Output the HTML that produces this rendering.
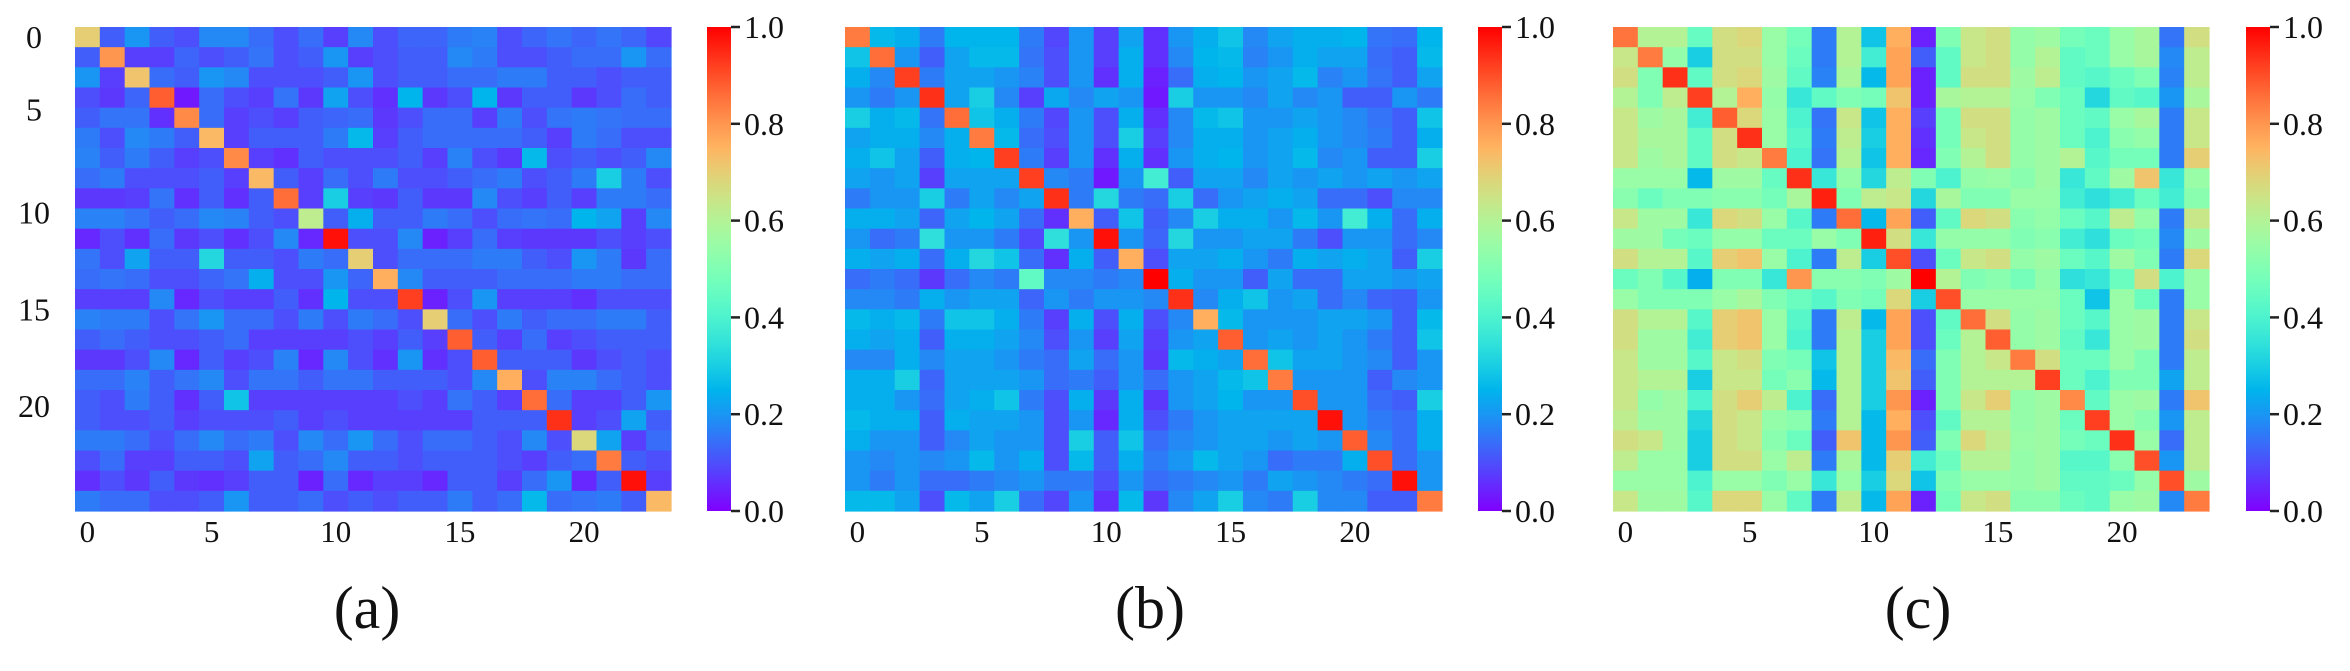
<!DOCTYPE html>
<html><head><meta charset="utf-8">
<style>
html,body{margin:0;padding:0;background:#fff;}
svg{display:block;}
text{font-family:"Liberation Serif","Times New Roman",serif;fill:#111;}
</style></head>
<body>
<svg id="fig" width="2350" height="671" viewBox="0 0 2350 671" xmlns="http://www.w3.org/2000/svg"></svg>
<script>
const tickIdx = [0,5,10,15,20];
const yTickRowPos = [0.5,4.1,9.2,14.0,18.8];
const cbTicks = [0.0,0.2,0.4,0.6,0.8,1.0];
const cbTickLabels = ["0.0","0.2","0.4","0.6","0.8","1.0"];
const panelLabels = ["(a)","(b)","(c)"];

const matA = [
[.70,.12,.20,.12,.10,.18,.18,.14,.10,.14,.08,.18,.10,.13,.13,.16,.17,.10,.13,.15,.13,.15,.13,.09],
[.12,.80,.08,.08,.13,.10,.12,.15,.10,.12,.20,.08,.10,.12,.12,.18,.16,.10,.10,.12,.14,.14,.20,.14],
[.20,.08,.72,.14,.12,.20,.18,.10,.10,.10,.12,.20,.10,.12,.12,.14,.14,.16,.16,.12,.12,.10,.12,.12],
[.10,.07,.13,.88,.03,.14,.10,.08,.15,.07,.22,.10,.06,.25,.07,.10,.25,.07,.12,.12,.07,.10,.14,.12],
[.12,.15,.15,.06,.82,.14,.08,.10,.08,.12,.13,.14,.07,.10,.14,.14,.08,.16,.10,.15,.16,.15,.14,.14],
[.16,.10,.18,.16,.12,.74,.08,.12,.12,.12,.16,.26,.08,.12,.14,.14,.14,.14,.12,.08,.16,.14,.10,.10],
[.17,.12,.16,.12,.08,.10,.82,.08,.06,.12,.10,.10,.10,.12,.08,.17,.10,.07,.26,.10,.12,.10,.12,.18],
[.14,.16,.10,.10,.10,.12,.08,.74,.12,.08,.14,.10,.16,.10,.10,.12,.14,.16,.10,.12,.16,.30,.16,.10],
[.07,.07,.08,.15,.06,.12,.06,.12,.86,.08,.30,.08,.07,.12,.07,.07,.18,.10,.08,.12,.08,.16,.16,.14],
[.17,.17,.15,.12,.14,.18,.17,.12,.10,.62,.12,.24,.12,.12,.16,.14,.10,.14,.15,.14,.25,.22,.08,.18],
[.05,.10,.06,.14,.07,.10,.06,.10,.18,.05,.98,.10,.10,.18,.04,.08,.14,.08,.07,.07,.07,.10,.08,.10],
[.15,.10,.22,.12,.12,.32,.12,.12,.10,.16,.14,.70,.10,.14,.14,.14,.16,.16,.12,.10,.20,.16,.07,.14],
[.14,.15,.14,.10,.10,.13,.15,.24,.10,.10,.20,.13,.76,.18,.12,.12,.12,.14,.14,.14,.16,.16,.14,.14],
[.08,.08,.08,.18,.05,.10,.08,.08,.12,.06,.25,.10,.10,.92,.04,.10,.20,.08,.08,.08,.06,.10,.10,.10],
[.17,.16,.16,.10,.15,.20,.14,.14,.10,.16,.10,.16,.14,.10,.70,.14,.10,.16,.12,.14,.14,.16,.16,.12],
[.12,.14,.12,.10,.10,.12,.14,.08,.08,.08,.08,.10,.08,.12,.08,.88,.12,.08,.14,.08,.10,.12,.12,.12],
[.07,.07,.10,.18,.05,.12,.08,.10,.17,.05,.18,.10,.06,.20,.06,.10,.88,.12,.12,.12,.07,.10,.12,.10],
[.14,.14,.17,.12,.15,.18,.10,.15,.15,.12,.15,.15,.12,.12,.12,.10,.18,.76,.10,.17,.17,.14,.12,.10],
[.12,.10,.16,.12,.06,.12,.28,.08,.08,.08,.08,.08,.08,.10,.08,.15,.12,.08,.86,.14,.08,.08,.12,.20],
[.12,.10,.10,.12,.08,.10,.10,.10,.12,.08,.10,.08,.08,.08,.08,.08,.12,.12,.12,.94,.08,.10,.22,.12],
[.16,.16,.14,.10,.14,.18,.14,.16,.10,.18,.14,.20,.14,.10,.14,.14,.12,.10,.18,.10,.68,.22,.08,.14],
[.10,.14,.08,.08,.12,.12,.10,.22,.12,.14,.18,.12,.12,.10,.12,.12,.12,.10,.08,.12,.14,.84,.12,.10],
[.06,.10,.07,.12,.07,.06,.08,.12,.12,.04,.14,.05,.08,.08,.05,.12,.12,.08,.14,.20,.05,.12,.98,.08],
[.16,.14,.14,.10,.10,.12,.20,.12,.12,.14,.10,.12,.10,.12,.12,.16,.12,.14,.26,.14,.15,.16,.12,.74]
];

const matB = [
[.84,.26,.24,.16,.25,.25,.25,.16,.09,.2,.08,.22,.06,.2,.24,.28,.18,.22,.24,.24,.25,.15,.14,.25],
[.28,.86,.2,.12,.22,.26,.26,.15,.1,.2,.08,.24,.06,.18,.25,.26,.17,.2,.24,.22,.22,.14,.12,.26],
[.24,.18,.92,.16,.22,.22,.2,.17,.1,.2,.06,.24,.04,.14,.24,.25,.2,.22,.26,.17,.2,.15,.12,.22],
[.2,.16,.2,.94,.22,.3,.18,.08,.23,.18,.22,.2,.03,.3,.2,.2,.18,.22,.18,.2,.12,.12,.2,.16],
[.3,.24,.26,.15,.86,.28,.24,.16,.09,.2,.1,.24,.06,.18,.26,.28,.2,.2,.22,.2,.18,.15,.12,.28],
[.22,.24,.24,.18,.24,.84,.26,.14,.1,.2,.1,.3,.08,.18,.24,.24,.2,.22,.24,.2,.18,.16,.12,.24],
[.24,.28,.22,.12,.24,.25,.92,.16,.08,.2,.06,.24,.06,.2,.24,.25,.2,.22,.26,.18,.2,.12,.12,.3],
[.22,.2,.22,.08,.22,.22,.22,.92,.18,.16,.03,.2,.38,.12,.22,.22,.18,.22,.2,.22,.2,.22,.2,.22],
[.16,.2,.2,.3,.16,.22,.18,.22,.94,.16,.32,.16,.14,.3,.14,.2,.22,.24,.22,.14,.14,.1,.18,.18],
[.24,.24,.22,.13,.22,.25,.22,.14,.06,.76,.12,.28,.12,.18,.3,.24,.24,.2,.26,.2,.38,.24,.14,.24],
[.2,.14,.16,.34,.2,.2,.16,.09,.34,.2,.98,.2,.13,.32,.2,.2,.22,.22,.16,.1,.2,.2,.14,.18],
[.24,.22,.24,.14,.24,.32,.28,.14,.06,.24,.12,.76,.1,.22,.22,.24,.2,.16,.24,.22,.24,.22,.12,.3],
[.14,.16,.14,.07,.14,.18,.16,.44,.18,.18,.16,.18,1.0,.24,.2,.2,.12,.22,.14,.14,.22,.22,.2,.22],
[.18,.18,.16,.24,.2,.22,.22,.13,.2,.16,.2,.2,.18,.94,.18,.24,.28,.2,.22,.14,.18,.13,.12,.2],
[.26,.24,.26,.16,.28,.28,.24,.16,.08,.24,.1,.24,.1,.18,.76,.26,.2,.2,.2,.22,.22,.2,.12,.26],
[.24,.22,.24,.12,.24,.24,.22,.18,.1,.2,.08,.22,.08,.2,.22,.88,.2,.22,.2,.22,.2,.16,.12,.28],
[.18,.18,.24,.18,.22,.22,.2,.16,.14,.22,.14,.2,.07,.26,.24,.22,.86,.28,.22,.22,.2,.18,.12,.2],
[.24,.24,.3,.13,.22,.22,.22,.2,.14,.16,.12,.2,.14,.2,.22,.26,.28,.84,.2,.2,.2,.12,.18,.2],
[.24,.24,.2,.14,.22,.24,.28,.16,.1,.24,.07,.24,.07,.2,.22,.25,.2,.2,.9,.2,.2,.14,.12,.3],
[.26,.24,.24,.12,.24,.22,.22,.2,.1,.2,.05,.24,.1,.16,.2,.22,.22,.22,.22,.98,.2,.16,.14,.24],
[.24,.2,.2,.12,.18,.22,.2,.2,.1,.3,.12,.28,.14,.18,.2,.22,.22,.2,.22,.2,.88,.18,.14,.24],
[.2,.18,.2,.18,.2,.26,.2,.24,.1,.26,.12,.24,.16,.2,.26,.22,.2,.14,.16,.16,.24,.9,.14,.2],
[.2,.16,.2,.14,.14,.16,.18,.2,.16,.16,.1,.2,.14,.16,.18,.2,.16,.22,.2,.18,.16,.14,.98,.2],
[.26,.26,.22,.1,.26,.22,.3,.14,.09,.2,.06,.26,.07,.18,.22,.3,.18,.16,.3,.18,.18,.12,.12,.84]
];

const matC = [
[.85,.6,.6,.45,.66,.68,.55,.48,.16,.6,.28,.76,.04,.5,.64,.66,.54,.56,.48,.46,.55,.58,.15,.66],
[.64,.84,.54,.3,.66,.66,.55,.46,.16,.6,.38,.78,.12,.44,.64,.66,.54,.6,.44,.46,.55,.58,.18,.62],
[.66,.5,.94,.44,.66,.68,.56,.44,.17,.58,.26,.78,.04,.44,.66,.66,.56,.62,.44,.42,.46,.5,.17,.62],
[.6,.5,.62,.92,.6,.76,.54,.36,.44,.5,.48,.72,.04,.58,.6,.6,.55,.5,.46,.32,.44,.42,.2,.58],
[.64,.56,.58,.38,.88,.68,.55,.4,.15,.64,.28,.76,.08,.48,.66,.66,.54,.56,.46,.44,.55,.58,.16,.64],
[.64,.58,.58,.44,.66,.94,.55,.42,.16,.62,.3,.76,.06,.48,.64,.66,.54,.56,.46,.4,.52,.54,.16,.64],
[.64,.56,.58,.44,.66,.64,.84,.4,.15,.6,.28,.76,.05,.5,.6,.66,.54,.56,.6,.42,.48,.48,.16,.7],
[.55,.55,.55,.26,.56,.56,.45,.94,.36,.54,.32,.62,.5,.4,.54,.55,.52,.56,.36,.44,.56,.72,.36,.55],
[.52,.46,.5,.5,.52,.52,.48,.58,.96,.5,.62,.64,.32,.58,.5,.5,.55,.55,.38,.34,.38,.46,.38,.52],
[.64,.56,.56,.36,.68,.66,.55,.42,.16,.86,.26,.78,.12,.44,.68,.66,.52,.54,.46,.42,.62,.54,.16,.64],
[.56,.56,.48,.46,.54,.54,.46,.46,.55,.5,.96,.66,.36,.54,.54,.54,.5,.52,.38,.34,.46,.48,.18,.56],
[.66,.6,.6,.42,.7,.72,.55,.4,.16,.62,.3,.9,.1,.46,.64,.66,.54,.56,.46,.42,.56,.5,.16,.68],
[.46,.5,.42,.24,.5,.5,.36,.8,.52,.52,.5,.56,1.0,.6,.5,.52,.48,.54,.34,.36,.46,.66,.4,.55],
[.55,.5,.5,.5,.55,.58,.5,.46,.42,.5,.48,.68,.3,.9,.55,.55,.55,.55,.46,.28,.55,.46,.16,.55],
[.66,.6,.6,.42,.7,.72,.55,.42,.16,.62,.26,.78,.1,.44,.86,.66,.54,.56,.46,.42,.55,.56,.16,.64],
[.66,.56,.56,.38,.7,.72,.55,.4,.16,.6,.3,.78,.1,.46,.6,.88,.54,.56,.44,.36,.55,.56,.16,.66],
[.64,.56,.56,.42,.64,.66,.5,.48,.28,.6,.3,.74,.14,.5,.6,.64,.84,.66,.46,.46,.55,.5,.16,.62],
[.64,.6,.6,.3,.64,.64,.48,.52,.26,.6,.3,.72,.12,.5,.6,.6,.6,.92,.46,.4,.5,.5,.22,.62],
[.64,.54,.56,.4,.66,.7,.62,.4,.14,.6,.3,.8,.04,.5,.64,.7,.54,.56,.82,.44,.55,.56,.16,.72],
[.62,.56,.56,.32,.66,.64,.54,.52,.16,.6,.26,.76,.1,.44,.6,.6,.54,.56,.46,.92,.55,.52,.2,.62],
[.66,.64,.56,.3,.66,.64,.52,.46,.12,.72,.26,.8,.12,.5,.68,.62,.55,.56,.48,.46,.94,.55,.14,.62],
[.62,.55,.55,.3,.66,.66,.55,.62,.16,.58,.26,.7,.38,.46,.6,.6,.54,.56,.42,.42,.52,.9,.2,.62],
[.55,.55,.55,.4,.55,.55,.5,.55,.36,.55,.3,.68,.28,.5,.55,.55,.54,.56,.44,.44,.46,.54,.9,.56],
[.64,.56,.56,.42,.68,.68,.55,.44,.16,.62,.26,.78,.04,.48,.64,.66,.52,.52,.46,.44,.55,.56,.18,.84]
];

const NS = "http://www.w3.org/2000/svg";
const svg = document.getElementById('fig');
function mk(tag, attrs, parent){
  const e = document.createElementNS(NS, tag);
  for (const k in attrs) e.setAttribute(k, attrs[k]);
  (parent||svg).appendChild(e);
  return e;
}
function rainbow(v){
  v = Math.max(0, Math.min(1, v));
  const r = Math.min(1, Math.abs(2*v - 0.5));
  const g = Math.sin(Math.PI*v);
  const b = Math.cos(Math.PI*v/2);
  return `rgb(${Math.round(r*255)},${Math.round(g*255)},${Math.round(b*255)})`;
}

const panels = [
  {m: matA, x:75,  w:596, cbx:707,  ylabels:true,  cx:367,  key:'a'},
  {m: matB, x:845, w:597, cbx:1478, ylabels:false, cx:1150, key:'b'},
  {m: matC, x:1613,w:596, cbx:2246, ylabels:false, cx:1918, key:'c'}
];
const Y0 = 27, H = 484, CBW = 24;

panels.forEach((p, pi) => {
  const g = mk('g', {});
  
  
  const n = p.m.length;
  const cw = p.w / n, ch = H / n;
  const xPos = j => p.x + j*cw;
  const yPos = i => Y0 + i*ch;
  p.m.forEach((row, i) => row.forEach((v, j) => {
    const r = mk('rect', {x: xPos(j).toFixed(2), y: yPos(i).toFixed(2), width: (cw+0.6).toFixed(2), height: (ch+0.6).toFixed(2), fill: rainbow(v)}, g);
    
    
  }));
  tickIdx.forEach(t => {
    const tx = mk('text', {x: (xPos(t)+cw/2).toFixed(1), y: 542, 'font-size': 31, 'text-anchor': 'middle'}, g);
    tx.textContent = t;
    
    
  });
  if (p.ylabels) {
    tickIdx.forEach((t, k) => {
      const ty = mk('text', {x: 34, y: (yPos(yTickRowPos[k])+11).toFixed(1), 'font-size': 32, 'text-anchor': 'middle'}, g);
      ty.textContent = t;
      
      
    });
  }
  const cb = mk('g', {}, svg);
  
  
  const gid = 'grad' + pi;
  const defs = mk('defs', {}, cb);
  const lg = mk('linearGradient', {id: gid, x1:0, y1:1, x2:0, y2:0}, defs);
  for (let k = 0; k <= 20; k++) mk('stop', {offset: (k/20), 'stop-color': rainbow(k/20)}, lg);
  mk('rect', {x: p.cbx, y: Y0, width: CBW, height: H, fill: `url(#${gid})`}, cb);
  const cbY = v => Y0 + H - v*H;
  cbTicks.forEach((v, k) => {
    mk('line', {x1: p.cbx+CBW, x2: p.cbx+CBW+9, y1: cbY(v), y2: cbY(v), stroke:'#222', 'stroke-width':2.5}, cb);
    const tl = mk('text', {x: p.cbx+CBW+13, y: (cbY(v)+11).toFixed(1), 'font-size': 32}, cb);
    tl.textContent = cbTickLabels[k];
    
    
  });
  const pl = mk('text', {x: p.cx, y: 628, 'font-size': 60, 'text-anchor':'middle'}, svg);
  pl.textContent = panelLabels[pi];
  
  
});
</script>
</body></html>
